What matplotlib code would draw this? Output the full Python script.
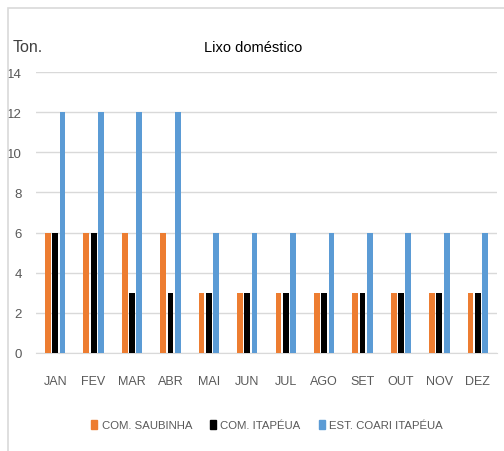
import matplotlib
matplotlib.use("Agg")
import matplotlib.pyplot as plt
import numpy as np
from matplotlib.patches import Rectangle

# data
months = ["JAN", "FEV", "MAR", "ABR", "MAI", "JUN", "JUL", "AGO", "SET", "OUT", "NOV", "DEZ"]
saubinha = [6, 6, 6, 6, 3, 3, 3, 3, 3, 3, 3, 3]
itapeua = [6, 6, 3, 3, 3, 3, 3, 3, 3, 3, 3, 3]
est_coari = [12, 12, 12, 12, 6, 6, 6, 6, 6, 6, 6, 6]
series_names = ["COM. SAUBINHA", "COM. ITAPÉUA", "EST. COARI ITAPÉUA"]
colors = ["#ED7D31", "#000000", "#5B9BD5"]

plt.rcParams["font.family"] = ["Liberation Sans", "DejaVu Sans"]

fig = plt.figure(figsize=(5.04, 4.52), dpi=100)
ax = fig.add_axes([36 / 504, 1 - 354 / 452, 461 / 504, 281 / 452])

x = np.arange(len(months))
w = 0.15
off = 0.19
for i, (vals, c) in enumerate(zip([saubinha, itapeua, est_coari], colors)):
    ax.bar(x + (i - 1) * off, vals, width=w, color=c, zorder=3)

ax.set_xlim(-0.5, len(months) - 0.5)
ax.set_ylim(0, 14)
ax.set_yticks(range(0, 15, 2))
ax.set_xticks(x)
ax.set_xticklabels(months)
ax.grid(axis="y", color="#d9d9d9", linewidth=1, zorder=0)
for s in ["top", "right", "left"]:
    ax.spines[s].set_visible(False)
ax.spines["bottom"].set_color("#d9d9d9")
ax.tick_params(axis="both", length=0, labelsize=9.5, labelcolor="#595959")
ax.tick_params(axis="x", pad=16, labelsize=9)
ax.tick_params(axis="y", pad=10)

fig.text(253 / 504, 1 - 48 / 452, "Lixo doméstico", ha="center", va="center",
         fontsize=10.5, color="#000000")
fig.text(13 / 504, 1 - 47 / 452, "Ton.", ha="left", va="center",
         fontsize=11.5, color="#404040")

# outer chart border (top and left visible)
fig.patches.append(Rectangle((8 / 504, -0.1), 1.2, 1.1 - 9 / 452, transform=fig.transFigure,
                             fill=False, edgecolor="#d9d9d9", linewidth=1.2))

handles = [Rectangle((0, 0), 1, 1, color=c) for c in colors]
fig.legend(handles, series_names, loc="center", bbox_to_anchor=(0.53, 1 - 426 / 452),
           ncol=3, frameon=False, handlelength=0.5, handleheight=0.9, handletextpad=0.4,
           columnspacing=1.6, fontsize=8.2, labelcolor="#595959")

fig.savefig("out.png", dpi=100)
